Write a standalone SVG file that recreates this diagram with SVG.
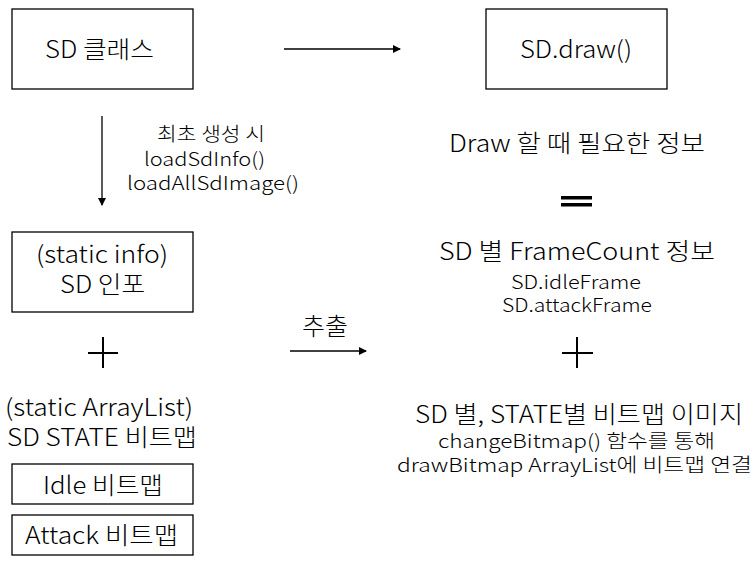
<svg xmlns="http://www.w3.org/2000/svg" width="755" height="566" viewBox="0 0 755 566">
<style>
text{font-family:"Noto Sans CJK KR","Noto Sans",sans-serif;fill:#000;font-weight:300}
.l{font-size:24px}
.s{font-size:19px}
.box{fill:#fff;stroke:#000;stroke-width:1.3}
.ln{stroke:#000;stroke-width:1.3;fill:none}
.plus{stroke:#000;stroke-width:2;fill:none}
</style>
<defs>
<marker id="ah" markerWidth="8" markerHeight="8" refX="7" refY="4" orient="auto" markerUnits="userSpaceOnUse">
<path d="M0,0 L8,4 L0,8 z" fill="#000"/>
</marker>
</defs>
<rect width="755" height="566" fill="#fff"/>
<g id="connectors">
<line class="ln" x1="284" y1="49" x2="400" y2="49" marker-end="url(#ah)"/>
<line class="ln" x1="102" y1="116" x2="102" y2="205" marker-end="url(#ah)"/>
<line class="ln" x1="290" y1="351" x2="366" y2="351" marker-end="url(#ah)"/>
<text class="s" x="157" y="141" textLength="108" lengthAdjust="spacingAndGlyphs">최초 생성 시</text>
<text class="s" x="144" y="166" textLength="121" lengthAdjust="spacingAndGlyphs">loadSdInfo()</text>
<text class="s" x="127" y="190" textLength="172" lengthAdjust="spacingAndGlyphs">loadAllSdImage()</text>
<text class="l" x="302" y="335" textLength="46" lengthAdjust="spacingAndGlyphs">추출</text>
</g>
<g id="sd-class">
<rect class="box" x="12" y="9" width="181" height="80"/>
<text class="l" x="45" y="58" textLength="109" lengthAdjust="spacingAndGlyphs">SD 클래스</text>
</g>
<g id="sd-draw">
<rect class="box" x="486" y="9" width="181" height="80"/>
<text class="l" x="520" y="58" textLength="112" lengthAdjust="spacingAndGlyphs">SD.draw()</text>
</g>
<g id="draw-info">
<text class="l" x="449" y="152" textLength="256" lengthAdjust="spacingAndGlyphs">Draw 할 때 필요한 정보</text>
<rect x="561" y="196" width="31" height="3.5" fill="#000"/>
<rect x="561" y="203" width="31" height="3.5" fill="#000"/>
</g>
<g id="static-info">
<rect class="box" x="12" y="232" width="181" height="80"/>
<text class="l" x="36" y="263" textLength="132" lengthAdjust="spacingAndGlyphs">(static info)</text>
<text class="l" x="60" y="293" textLength="85" lengthAdjust="spacingAndGlyphs">SD 인포</text>
</g>
<g id="plus-left">
<path class="plus" d="M88,353 H118 M103,337 V368"/>
</g>
<g id="state-bitmap">
<text class="l" x="5" y="416" textLength="188" lengthAdjust="spacingAndGlyphs">(static ArrayList)</text>
<text class="l" x="7" y="446" textLength="190" lengthAdjust="spacingAndGlyphs">SD STATE 비트맵</text>
</g>
<g id="idle-bitmap">
<rect class="box" x="12" y="464" width="181" height="40"/>
<text class="l" x="43" y="494" textLength="120" lengthAdjust="spacingAndGlyphs">Idle 비트맵</text>
</g>
<g id="attack-bitmap">
<rect class="box" x="12" y="515" width="181" height="40"/>
<text class="l" x="25" y="544" textLength="153" lengthAdjust="spacingAndGlyphs">Attack 비트맵</text>
</g>
<g id="framecount">
<text class="l" x="439" y="260" textLength="276" lengthAdjust="spacingAndGlyphs">SD 별 FrameCount 정보</text>
<text class="s" x="511" y="289" textLength="130" lengthAdjust="spacingAndGlyphs">SD.idleFrame</text>
<text class="s" x="502" y="312" textLength="150" lengthAdjust="spacingAndGlyphs">SD.attackFrame</text>
</g>
<g id="plus-right">
<path class="plus" d="M562,353 H593 M577,337 V368"/>
</g>
<g id="bitmap-image">
<text class="l" x="415" y="423" textLength="328" lengthAdjust="spacingAndGlyphs">SD 별, STATE별 비트맵 이미지</text>
<text class="s" x="438" y="448" textLength="277" lengthAdjust="spacingAndGlyphs">changeBitmap() 함수를 통해</text>
<text class="s" x="397" y="472" textLength="355" lengthAdjust="spacingAndGlyphs">drawBitmap ArrayList에 비트맵 연결</text>
</g>
</svg>
